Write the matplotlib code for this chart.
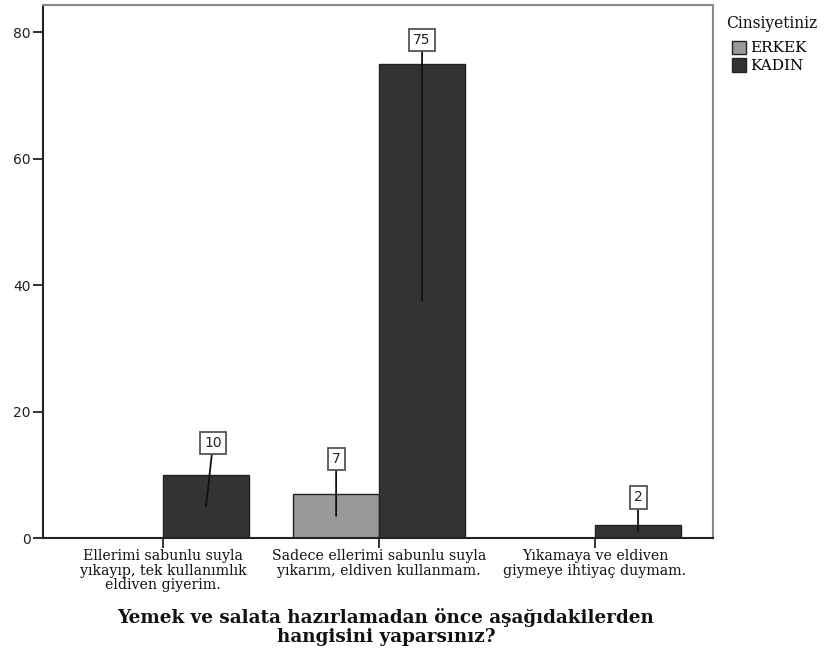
import matplotlib
matplotlib.use("Agg")
import matplotlib.pyplot as plt
from matplotlib.patches import Patch
from matplotlib.transforms import offset_copy
import numpy as np

categories = ["Ellerimi sabunlu suyla\nyıkayıp, tek kullanımlık\neldiven giyerim.",
              "Sadece ellerimi sabunlu suyla\nyıkarım, eldiven kullanmam.",
              "Yıkamaya ve eldiven\ngiymeye ihtiyaç duymam."]
series_names = ["ERKEK", "KADIN"]
erkek = [0, 7, 0]
kadin = [10, 75, 2]
yticks = [0, 20, 40, 60, 80]
legend_title = "Cinsiyetiniz"
title = "Yemek ve salata hazırlamadan önce aşağıdakilerden\nhangisini yaparsınız?"

colors = ["#999999", "#333333"]
# label offsets in pixels (dx, dy above bar top) per series per category
label_offsets = {0: [(0, 32), (0, 35), (0, 30)], 1: [(7, 32), (0, 24), (0, 28)]}

fig = plt.figure(figsize=(8.29, 6.53), dpi=100)
ax = fig.add_axes([43/829, 1-538/653, (713-43)/829, (538-5)/653])

x = np.arange(len(categories))
width = 0.398
for si, vals in enumerate([erkek, kadin]):
    offs = -width/2 if si == 0 else width/2
    for ci, v in enumerate(vals):
        if v == 0:
            continue
        xc = x[ci] + offs
        ax.bar(xc, v, width=width, color=colors[si], edgecolor="#222222", linewidth=1.0, zorder=2)
        dx, dy = label_offsets[si][ci]
        tr = offset_copy(ax.transData, fig=fig, x=dx, y=dy, units="dots")
        ax.annotate(str(v), xy=(xc, v/2), xycoords="data", xytext=(xc, v), textcoords=tr,
                    ha="center", va="center", fontsize=10, color="#222222", family="DejaVu Sans",
                    bbox=dict(boxstyle="square,pad=0.3", fc="white", ec="#555555", lw=1.3),
                    arrowprops=dict(arrowstyle="-", color="#111111", lw=1.3, shrinkA=0, shrinkB=0),
                    zorder=3)

ax.set_xlim(-0.556, 2.546)
ax.set_ylim(0, 84.3)
ax.set_yticks(yticks)
ax.set_yticklabels([str(t) for t in yticks], fontsize=10, color="#222222", family="DejaVu Sans")
ax.set_xticks(x)
ax.set_xticklabels(categories, fontsize=10.2, family="DejaVu Serif", color="#111111", linespacing=1.04)
ax.tick_params(axis="y", length=7, width=1.3, color="#222222", pad=2)
ax.tick_params(axis="x", length=7, width=1.3, color="#222222", pad=1)
for s in ["left", "bottom"]:
    ax.spines[s].set_color("#222222")
    ax.spines[s].set_linewidth(1.5)
for s in ["top", "right"]:
    ax.spines[s].set_color("#888888")
    ax.spines[s].set_linewidth(1.5)

fig.text(386/829, 1-608/653, title, ha="center", va="top", fontsize=13.2, fontweight="bold",
         family="DejaVu Serif", color="#111111", linespacing=1.09)

fig.text(772/829, 1-23/653, legend_title, ha="center", va="center", fontsize=11.2,
         family="DejaVu Serif", color="#111111")
handles = [Patch(facecolor=colors[i], edgecolor="#222222", label=series_names[i]) for i in range(2)]
leg = fig.legend(handles=handles, loc="upper left",
                 bbox_to_anchor=(730/829, 1-39/653), frameon=False,
                 prop={"family": "DejaVu Serif", "size": 11},
                 handlelength=0.95, handleheight=0.95, handletextpad=0.25, labelspacing=0.2,
                 borderpad=0.1, borderaxespad=0)

fig.savefig("out.png", dpi=100)
